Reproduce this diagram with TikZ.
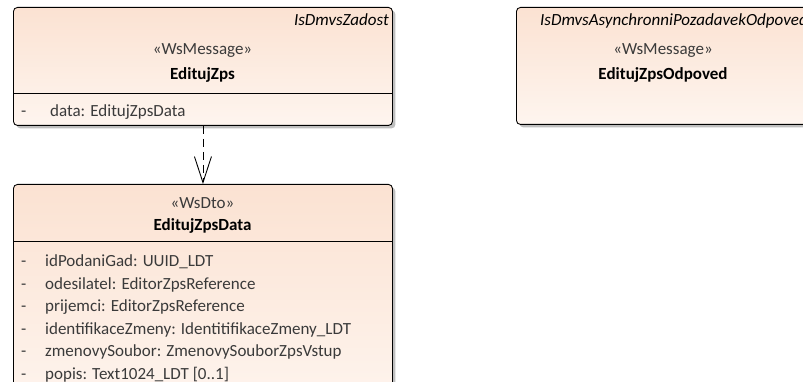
\documentclass[tikz,border=0pt]{standalone}
\usepackage{fontspec}
\setmainfont{Carlito}
\usetikzlibrary{arrows.meta,shadows}
\definecolor{clstop}{HTML}{FBE2D2}
\definecolor{clsbot}{HTML}{FEF5EF}
\definecolor{clstext}{HTML}{3A3A3A}

\begin{document}
\begin{tikzpicture}[x=1pt, y=-1pt, font=\fontsize{17}{20}\selectfont, inner sep=0pt,
  text height=11.5pt, text depth=3.5pt,
  cls/.style = {draw, rounded corners=4pt, line width=0.9pt, anchor=north west, top color=clstop, bottom color=clsbot, drop shadow={shadow xshift=3pt, shadow yshift=-3pt, fill=black!25, opacity=1}},
  pkg/.style = {anchor=east, font=\fontsize{17}{20}\selectfont\itshape},
  stereo/.style = {text=clstext},
  title/.style = {font=\fontsize{17}{20}\selectfont\bfseries},
  attr/.style = {anchor=west, text=clstext},
  dep/.style = {dash pattern=on 8pt off 5pt, line width=0.9pt, -{Straight Barb[length=26pt, width=17pt, line width=0.9pt]}}]
\clip (0,0) rectangle (803,382);
% classes
\node[cls, minimum width=379pt, minimum height=118pt, text height=, text depth=] (zadost) at (13,7) {};
\node[cls, minimum width=379pt, minimum height=230pt, text height=, text depth=] (data) at (13,184) {};
\node[cls, minimum width=294pt, minimum height=117pt, text height=, text depth=] (odpoved) at (516,7) {};
\draw[line width=0.9pt] (zadost.west |- 0,93) -- (zadost.east |- 0,93);
\draw[line width=0.9pt] (data.west |- 0,241) -- (data.east |- 0,241);
% EditujZps
\node[pkg] (zadostpkg) at (389,22) {IsDmvsZadost};
\node[stereo] (zadoststereo) at (202.5,51) {«WsMessage»};
\node[title] (zadostname) at (202.5,76) {EditujZps};
\node[attr] (zadostdash) at (21,113) {-};
\node[attr] (zadostattr) at (50,113) {data: EditujZpsData};
% EditujZpsData
\node[stereo] (datastereo) at (202.5,204) {«WsDto»};
\node[title] (dataname) at (202.5,226) {EditujZpsData};
\foreach \a [count=\i] in {{idPodaniGad: UUID\_LDT}, {odesilatel: EditorZpsReference},
    {prijemci: EditorZpsReference}, {identifikaceZmeny: IdentitifikaceZmeny\_LDT},
    {zmenovySoubor: ZmenovySouborZpsVstup}, {popis: Text1024\_LDT [0..1]}} {
  \node[attr] (datadash\i) at (21,240+22.5*\i) {-};
  \node[attr] (dataattr\i) at (45,240+22.5*\i) {\a};
}
% EditujZpsOdpoved
\node[pkg, anchor=west] (odpovedpkg) at (540,22) {IsDmvsAsynchronniPozadavekOdpoved};
\node[stereo] (odpovedstereo) at (663,51) {«WsMessage»};
\node[title] (odpovedname) at (663,76) {EditujZpsOdpoved};
\draw[dep] (zadost) -- (data);
\end{tikzpicture}
\end{document}
